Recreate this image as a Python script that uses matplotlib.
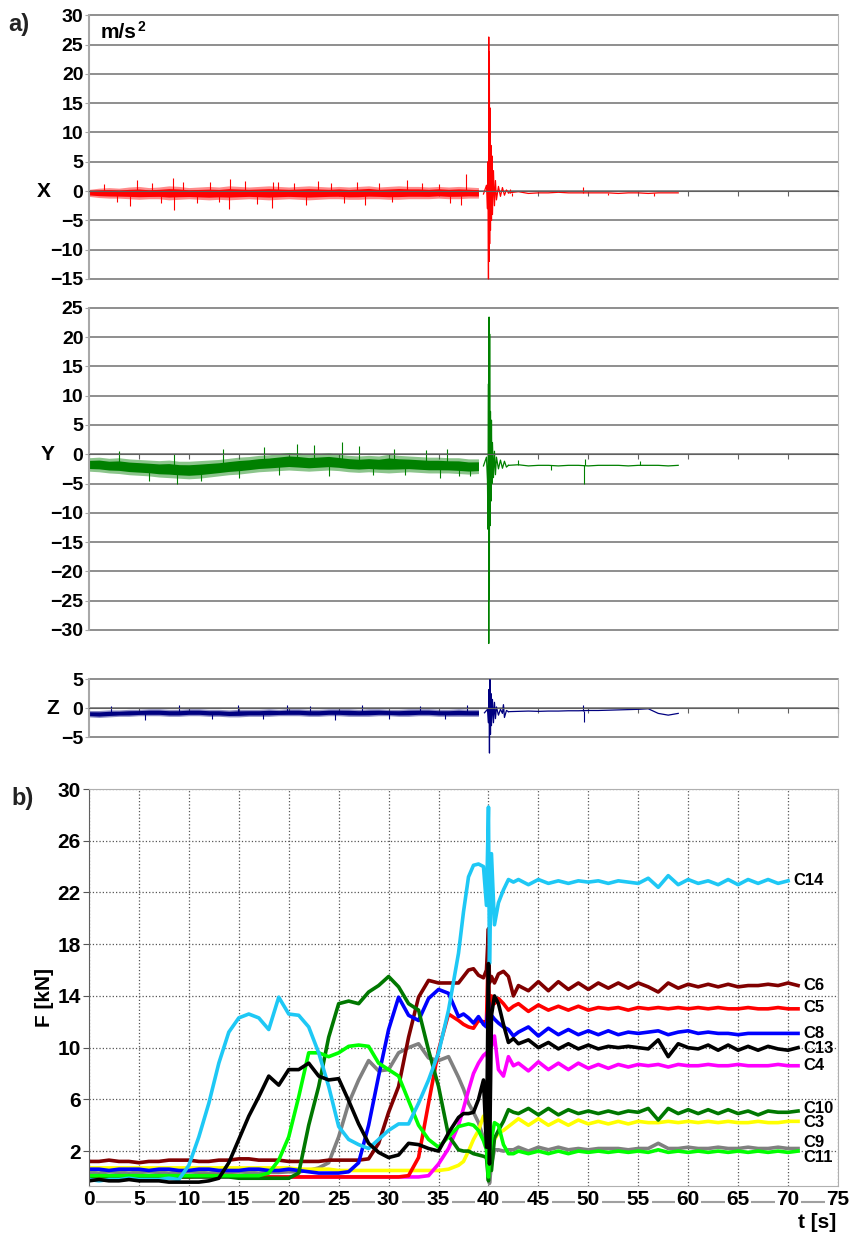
import numpy as np
import matplotlib
matplotlib.use("Agg")
import matplotlib.pyplot as plt
from matplotlib.transforms import blended_transform_factory

plt.rcParams['font.family'] = ['Liberation Sans', 'DejaVu Sans']
plt.rcParams['font.weight'] = 'bold'

# ---------------- a) accelerations [m/s^2] ----------------
# noise band before the event, 1 s steps (t = 0..39)
t_band = list(range(0, 40))
x_hi = [0.3, 0.5, 0.6, 0.5, 0.7, 0.8, 0.6, 0.7, 0.9, 0.8, 0.6, 0.7, 0.8, 0.7, 0.9, 0.8, 0.7, 0.8, 0.9, 0.8,
        0.7, 0.8, 0.9, 0.8, 0.7, 0.8, 0.7, 0.8, 0.9, 0.7, 0.8, 0.9, 0.8, 0.8, 0.7, 0.8, 0.7, 0.8, 0.7, 0.6]
x_lo = [-0.9, -1.1, -1.2, -1.2, -1.3, -1.4, -1.3, -1.3, -1.5, -1.4, -1.3, -1.4, -1.5, -1.4, -1.5, -1.4, -1.3, -1.4, -1.5, -1.4,
        -1.3, -1.4, -1.5, -1.4, -1.3, -1.3, -1.4, -1.4, -1.3, -1.3, -1.4, -1.4, -1.3, -1.3, -1.3, -1.2, -1.3, -1.3, -1.2, -1.2]
y_hi = [-0.6, -0.5, -0.7, -0.6, -0.8, -0.9, -1.0, -1.1, -1.0, -1.2, -1.2, -1.1, -1.0, -0.9, -0.7, -0.5, -0.4, -0.2, -0.1, 0.1,
        0.3, 0.2, 0.0, 0.1, 0.2, 0.0, -0.2, -0.3, -0.2, -0.3, 0.0, -0.2, -0.3, -0.4, -0.5, -0.5, -0.6, -0.6, -0.8, -0.8]
y_lo = [-2.9, -3.0, -3.2, -3.3, -3.5, -3.6, -3.7, -3.9, -4.0, -4.1, -4.2, -4.1, -3.9, -3.7, -3.5, -3.4, -3.2, -3.0, -2.9, -2.8,
        -2.7, -2.8, -2.9, -2.8, -2.7, -2.8, -3.0, -3.1, -3.0, -3.1, -3.2, -3.1, -3.0, -3.1, -3.2, -3.2, -3.2, -3.3, -3.4, -3.3]
z_hi = [-0.4, -0.4, -0.3, -0.3, -0.2, -0.2, -0.1, -0.1, -0.2, -0.2, -0.1, -0.1, -0.2, -0.2, -0.3, -0.2, -0.2, -0.2, -0.1, -0.2,
        -0.1, -0.1, -0.2, -0.2, -0.1, -0.1, -0.1, -0.2, -0.1, -0.1, -0.2, -0.2, -0.1, -0.1, -0.1, -0.2, -0.2, -0.1, -0.2, -0.2]
z_lo = [-1.5, -1.6, -1.5, -1.4, -1.4, -1.3, -1.3, -1.3, -1.4, -1.4, -1.3, -1.3, -1.4, -1.4, -1.5, -1.5, -1.4, -1.4, -1.4, -1.3,
        -1.3, -1.3, -1.4, -1.4, -1.3, -1.3, -1.4, -1.4, -1.4, -1.3, -1.3, -1.4, -1.4, -1.3, -1.3, -1.4, -1.4, -1.4, -1.4, -1.4]

# single spikes sticking out of the band
x_spk_t = [1.5, 2.8, 4.1, 4.8, 6.3, 7.2, 8.4, 8.5, 9.4, 10.8, 12.1, 13.0, 14.0, 14.1, 15.6, 16.8, 18.3, 18.4, 18.9,
           20.5, 21.7, 22.9, 24.2, 25.5, 26.8, 27.6, 29.0, 30.3, 31.8, 33.3, 35.0, 36.1, 37.2, 37.8]
x_spk_v = [1.2, -1.9, -2.5, 1.9, 1.4, -2.0, 2.2, -3.2, 1.6, -2.1, 1.5, -1.8, -3.0, 2.0, 1.8, -2.2, -2.8, 1.5, 1.6,
           1.4, -2.4, 1.7, 1.3, -2.0, 1.5, -2.3, 1.4, -1.9, 1.9, 1.3, 1.2, -2.0, -2.4, 3.0]
y_spk_t = [3.0, 6.0, 8.5, 8.8, 11.2, 13.4, 15.0, 17.5, 19.0, 20.8, 22.5, 24.0, 25.3, 27.0, 28.4, 30.5, 31.6,
           33.7, 35.1, 35.8, 37.0, 38.2]
y_spk_v = [0.6, -4.5, 0.0, -5.1, -4.6, 0.9, -4.0, 1.3, -3.6, 1.7, 1.5, -3.8, 2.0, 1.4, -3.5, 0.9, -3.6,
           0.8, -4.0, 0.9, -3.7, -3.8]
z_spk_t = [2.2, 5.6, 9.0, 12.3, 14.9, 17.4, 19.8, 22.1, 24.6, 27.3, 30.0, 33.1, 35.6, 37.9]
z_spk_v = [0.4, -2.0, 0.5, -1.9, 0.5, -1.8, 0.6, 0.4, -2.0, 0.5, -1.9, 0.4, -1.8, 0.5]

# the event around 40 s
x_ev_t = [39.5, 39.8, 39.9, 39.95, 40.0, 40.03, 40.06, 40.09, 40.12, 40.15, 40.2, 40.25, 40.3, 40.35, 40.4,
          40.5, 40.6, 40.7, 40.8, 41.0, 41.2, 41.4, 41.6, 41.8, 42.0]
x_ev_v = [-0.5, 1.0, -3.0, 5.0, -15.0, 26.3, -12.0, 23.8, -9.0, 14.2, -6.7, 7.8, -5.0, 6.0, -4.0,
          3.5, -2.5, 1.8, -1.5, 0.8, -0.9, 0.6, -0.7, 0.2, -0.3]
y_ev_t = x_ev_t
y_ev_v = [-2.0, -0.5, -4.5, -12.8, 12.0, -32.3, 23.4, -24.7, 20.5, -12.2, 7.3, -8.0, 5.8, -5.0, 2.0,
          -4.0, 0.5, -3.5, -0.5, -2.5, -1.0, -2.4, -1.2, -2.2, -1.9]
z_ev_t = [39.6, 39.9, 40.0, 40.05, 40.1, 40.15, 40.2, 40.25, 40.3, 40.4, 40.5, 40.6, 40.7, 40.8, 41.0,
          41.2, 41.4, 41.5, 41.6, 41.8, 42.0]
z_ev_v = [-0.8, -0.2, -2.5, 3.2, -7.7, 4.9, -4.5, 2.5, -3.0, 1.5, -2.5, 1.0, -1.8, 0.2, -1.2,
          -0.2, -0.9, 0.6, -1.6, -0.4, -0.6]

# after the event, 1 s steps (t = 42..59)
t_post = list(range(42, 60))
x_post = [-0.3, -0.1, -0.4, -0.3, -0.3, -0.2, -0.3, -0.3, -0.3, -0.3, -0.3, -0.4, -0.3, -0.3, -0.4, -0.3, -0.3, -0.3]
y_post = [-1.9, -1.8, -2.0, -1.9, -1.9, -2.0, -1.9, -1.9, -2.0, -1.9, -1.9, -1.9, -2.0, -1.9, -1.9, -1.9, -2.0, -1.9]
z_post = [-0.6, -0.55, -0.5, -0.55, -0.5, -0.5, -0.45, -0.45, -0.4, -0.4, -0.35, -0.3, -0.25, -0.2, -0.1, -0.9, -1.2, -0.9]
x_pspk_t = [42.2, 42.4, 49.5, 52.0, 56.6]
x_pspk_v = [0.3, -0.9, 0.7, -0.6, -0.8]
y_pspk_t = [43.0, 46.3, 49.6, 49.65, 55.2]
y_pspk_v = [-1.0, -2.7, -5.1, -0.9, -1.2]
z_pspk_t = [41.5, 49.5, 49.55]
z_pspk_v = [0.6, 0.5, -2.3]

# ---------------- b) forces [kN] ----------------
t_f = list(range(0, 38)) + [37.5, 38, 38.5, 39, 39.5, 39.8, 40.0, 40.1, 40.3, 40.6, 41, 41.5, 42, 42.5] \
      + list(range(43, 72))

c14 = [-0.2, -0.3, -0.2, -0.2, -0.1, -0.2, -0.2, -0.2, -0.1, -0.2, 0.9, 3.1, 5.7, 8.8, 11.2, 12.3, 12.6, 12.3, 11.4,
       13.9, 12.6, 12.5, 11.6, 9.6, 7.0, 3.9, 2.9, 2.5, 2.2, 2.9, 3.6, 4.1, 4.1, 5.7, 7.5, 9.6, 12.9, 17.3,
       20.5, 23.2, 24.1, 24.2, 24.0, 21.0, 28.6, 16.5, 25.0, 19.5, 21.2, 22.2, 23.0, 22.8,
       23.0, 22.6, 23.0, 22.7, 22.9, 22.7, 22.9, 22.8, 22.9, 22.7, 22.9, 22.8, 22.7, 23.1, 22.4, 23.3, 22.6, 23.0,
       22.7, 22.9, 22.6, 23.0, 22.6, 23.0, 22.7, 23.0, 22.7, 22.9, np.nan]
c6 = [1.2, 1.2, 1.3, 1.2, 1.2, 1.1, 1.2, 1.2, 1.3, 1.3, 1.3, 1.2, 1.2, 1.3, 1.3, 1.4, 1.4, 1.3, 1.3, 1.3,
      1.2, 1.2, 1.2, 1.2, 1.3, 1.3, 1.3, 1.3, 1.4, 2.6, 5.0, 7.0, 10.8, 13.9, 15.2, 15.0, 15.0, 15.0,
      15.5, 16.0, 16.1, 15.6, 15.4, 16.0, 19.2, 15.0, 15.5, 15.0, 15.7, 15.9, 15.5, 14.0,
      14.8, 14.4, 15.1, 14.4, 15.1, 14.5, 15.0, 14.5, 15.0, 14.6, 15.0, 14.6, 15.0, 14.7, 14.3, 15.0, 14.6, 14.9,
      14.7, 14.9, 14.7, 14.9, 14.7, 14.8, 14.8, 14.9, 14.8, 15.0, 14.8]
c5 = [0.1, 0.0, 0.0, 0.1, 0.0, 0.0, 0.0, 0.1, 0.0, 0.0, 0.0, 0.1, 0.1, 0.1, 0.1, 0.1, 0.0, 0.0, 0.0, 0.0,
      0.0, 0.0, 0.0, 0.0, 0.0, 0.0, 0.0, 0.0, 0.0, 0.0, 0.0, 0.0, 0.1, 1.5, 5.7, 9.8, 12.6, 12.1,
      11.8, 11.6, 11.5, 12.1, 12.0, 12.0, 18.0, 11.0, 14.0, 13.4, 13.8, 13.4, 12.9, 13.2,
      13.4, 12.8, 13.3, 12.9, 13.2, 12.9, 13.2, 12.9, 13.1, 13.0, 13.1, 12.9, 13.1, 13.0, 13.1, 13.0, 13.1, 13.0,
      13.1, 13.0, 13.1, 13.0, 13.0, 13.1, 13.0, 13.0, 13.1, 13.0, 13.0]
c8 = [0.6, 0.6, 0.5, 0.6, 0.6, 0.6, 0.5, 0.6, 0.6, 0.5, 0.5, 0.6, 0.6, 0.5, 0.5, 0.5, 0.6, 0.6, 0.5, 0.5,
      0.6, 0.5, 0.4, 0.3, 0.3, 0.3, 0.4, 1.1, 4.0, 7.8, 11.4, 13.9, 12.5, 12.1, 13.8, 14.5, 14.2, 12.4,
      12.6, 12.3, 11.9, 12.4, 11.8, 11.6, 13.5, 11.0, 12.5, 12.2, 11.9, 11.6, 11.4, 10.9,
      11.2, 11.6, 10.9, 11.5, 11.0, 11.4, 11.0, 11.3, 11.0, 11.3, 11.0, 11.2, 11.1, 11.2, 11.3, 11.0, 11.2, 11.3,
      11.1, 11.2, 11.1, 11.1, 11.0, 11.1, 11.1, 11.1, 11.1, 11.1, 11.1]
c13 = [-0.3, -0.2, -0.3, -0.3, -0.2, -0.3, -0.3, -0.3, -0.4, -0.4, -0.4, -0.4, -0.3, -0.1, 1.1, 2.9, 4.7, 6.2, 7.8,
       7.1, 8.3, 8.3, 8.8, 7.8, 7.5, 7.6, 5.9, 4.1, 2.6, 1.9, 1.5, 1.7, 2.6, 2.5, 2.2, 2.0, 3.4, 4.6,
       4.9, 4.9, 5.0, 6.0, 7.5, 2.3, 16.5, 1.0, 12.5, 14.0, 13.4, 11.8, 10.4, 10.7,
       10.3, 10.6, 10.0, 10.4, 9.9, 10.3, 9.9, 10.2, 9.9, 10.1, 10.0, 10.1, 10.0, 9.9, 10.6, 9.3, 10.3, 10.0,
       9.9, 10.2, 9.8, 10.2, 9.8, 10.1, 9.8, 10.1, 9.9, 9.8, 10.0]
c4 = [0.0, 0.0, 0.1, 0.0, 0.0, 0.0, 0.0, 0.0, 0.1, 0.0, 0.0, 0.0, 0.0, 0.0, 0.0, 0.0, 0.0, 0.0, 0.0, 0.0,
      0.0, 0.0, 0.0, 0.0, 0.0, 0.0, 0.0, 0.0, 0.0, 0.0, 0.0, 0.0, 0.0, 0.0, 0.1, 1.0, 2.2, 4.0,
      5.3, 6.7, 8.0, 8.8, 9.4, 9.6, 9.0, 10.5, 10.1, 10.9, 8.3, 7.8, 9.3, 8.6,
      8.8, 8.2, 8.9, 8.3, 8.8, 8.3, 8.8, 8.4, 8.7, 8.4, 8.7, 8.5, 8.7, 8.6, 8.7, 8.5, 8.7, 8.6,
      8.6, 8.7, 8.6, 8.6, 8.7, 8.6, 8.6, 8.6, 8.7, 8.6, 8.6]
c10 = [0.0, 0.1, 0.0, 0.0, 0.1, 0.0, 0.0, 0.0, 0.1, 0.0, 0.0, 0.0, 0.0, 0.0, 0.0, -0.1, -0.1, -0.1, -0.1, -0.1,
       -0.1, 0.3, 4.0, 7.0, 10.8, 13.4, 13.6, 13.4, 14.3, 14.8, 15.5, 14.7, 13.4, 12.9, 9.8, 7.0, 3.2, 2.1,
       2.0, 2.0, 1.8, 1.7, 1.6, 1.5, -0.3, 2.0, 0.5, 3.0, 3.6, 4.3, 5.2, 5.0,
       4.9, 5.3, 4.8, 5.3, 4.8, 5.2, 4.9, 5.1, 4.9, 5.1, 4.9, 5.1, 5.0, 5.3, 4.4, 5.3, 4.9, 5.2,
       4.9, 5.2, 4.9, 5.2, 4.9, 5.1, 4.8, 5.1, 5.0, 5.0, 5.1]
c3 = [0.7, 0.7, 0.7, 0.7, 0.7, 0.7, 0.7, 0.7, 0.7, 0.7, 0.7, 0.7, 0.7, 0.7, 0.7, 0.7, 0.7, 0.7, 0.7, 0.7,
      0.7, 0.6, 0.6, 0.6, 0.6, 0.5, 0.5, 0.5, 0.5, 0.5, 0.5, 0.5, 0.5, 0.5, 0.5, 0.5, 0.6, 0.9,
      1.2, 2.0, 2.9, 3.6, 4.7, 4.1, 1.0, 3.0, 2.0, 2.9, 3.4, 3.6, 3.9, 4.2,
      4.5, 4.0, 4.5, 4.0, 4.4, 4.0, 4.4, 4.1, 4.3, 4.1, 4.3, 4.1, 4.3, 4.2, 4.2, 4.3, 4.2, 4.3,
      4.2, 4.3, 4.2, 4.3, 4.2, 4.2, 4.3, 4.2, 4.2, 4.3, 4.3]
c9 = [0.35, 0.3, 0.4, 0.35, 0.3, 0.35, 0.4, 0.35, 0.3, 0.35, 0.4, 0.35, 0.3, 0.35, 0.35, 0.4, 0.35, 0.3, 0.35, 0.35,
      0.4, 0.4, 0.5, 0.7, 1.1, 3.1, 5.7, 7.5, 9.0, 8.2, 8.3, 9.6, 10.0, 10.3, 9.2, 9.0, 9.3, 7.7,
      6.8, 5.7, 5.0, 4.2, 3.0, 2.3, 1.5, -0.5, 1.0, 2.1, 2.1, 2.0, 2.1, 2.1,
      2.3, 2.0, 2.3, 2.1, 2.3, 2.1, 2.2, 2.1, 2.2, 2.2, 2.2, 2.1, 2.2, 2.2, 2.6, 2.2, 2.2, 2.3,
      2.2, 2.2, 2.3, 2.2, 2.2, 2.3, 2.2, 2.2, 2.3, 2.2, 2.2]
c11 = [0.1, 0.1, 0.1, 0.1, 0.1, 0.1, 0.1, 0.1, 0.1, 0.1, 0.1, 0.1, 0.1, 0.1, 0.1, 0.1, 0.1, 0.1, 0.3, 1.3,
       3.1, 6.2, 9.6, 9.6, 9.3, 9.6, 10.1, 10.2, 10.1, 8.8, 8.3, 7.8, 5.9, 4.0, 2.9, 2.3, 3.1, 3.9,
       4.0, 4.1, 4.0, 3.6, 2.8, 2.1, 0.0, 1.5, 2.9, 4.2, 4.0, 2.5, 1.8, 1.8,
       2.0, 1.8, 2.0, 1.8, 2.0, 1.8, 2.0, 1.9, 2.0, 1.9, 2.0, 1.9, 2.0, 1.9, 2.1, 1.9, 2.0, 1.9,
       2.0, 1.9, 2.0, 1.9, 2.0, 1.9, 2.0, 1.9, 2.0, 1.9, 2.0]

names = ['C9', 'C3', 'C4', 'C5', 'C6', 'C8', 'C10', 'C11', 'C14', 'C13']
series = [c9, c3, c4, c5, c6, c8, c10, c11, c14, c13]
colors = ['#808080', '#FFFF00', '#FF00FF', '#FF0000', '#800000', '#0000FF', '#007800', '#00FF00', '#1EC8F5', '#000000']
# label positions at the right end of the curves
lab_t = [71.5, 71.5, 71.5, 71.5, 71.5, 71.5, 71.5, 71.5, 70.5, 71.5]
lab_f = [2.7, 4.2, 8.6, 13.1, 14.8, 11.1, 5.3, 1.5, 22.9, 9.9]

# ---------------- figure ----------------
fig = plt.figure(figsize=(8.53, 12.34), dpi=100)
L, W = 89 / 853, 749 / 853


def panel(top, bottom):
    return fig.add_axes([L, 1 - bottom / 1234, W, (bottom - top) / 1234])


def style_acc(ax, lo, hi, name, name_x):
    ax.set_xlim(0, 75)
    ax.set_ylim(lo, hi)
    ax.set_yticks(np.arange(lo, hi + 1, 5))
    ax.set_xticks(np.arange(0, 76, 5))
    ax.set_xticklabels([])
    ax.spines['bottom'].set_position(('data', 0))
    ax.spines['bottom'].set_color('#606060')
    ax.spines['top'].set_visible(False)
    ax.spines['left'].set_color('#a8a8a8')
    ax.spines['left'].set_linewidth(1.5)
    ax.spines['right'].set_color('#b8b8b8')
    ax.yaxis.grid(True, color='#707070', lw=1.1)
    for gl in ax.get_ygridlines():
        gl.set_clip_on(False)
    ax.set_axisbelow(True)
    ax.tick_params(axis='x', direction='out', length=3.5, color='#606060')
    ax.tick_params(axis='y', length=3, pad=1, labelsize=14, color='#a8a8a8')
    tr = blended_transform_factory(ax.transAxes, ax.transData)
    ax.text(name_x, 0, name, transform=tr, fontsize=15, ha='center', va='center')


def draw_acc(ax, hi, lo, base, spk_t, spk_v, ev_t, ev_v, post, pspk_t, pspk_v, base_post, col):
    hi, lo = np.array(hi), np.array(lo)
    mid = (hi + lo) / 2
    # light outer band, dense core
    ax.fill_between(t_band, lo, hi, color=col, lw=0, alpha=0.45)
    ax.fill_between(t_band, mid + 0.6 * (lo - mid), mid + 0.6 * (hi - mid), color=col, lw=0)
    ax.vlines(spk_t, base, spk_v, color=col, lw=0.8)
    ax.plot(ev_t, ev_v, color=col, lw=0.9, clip_on=False)
    ax.plot(t_post, post, color=col, lw=0.9)
    ax.vlines(pspk_t, base_post, pspk_v, color=col, lw=0.8)


axX = panel(15.3, 279)
axY = panel(307.7, 630)
axZ = panel(679, 737.3)
style_acc(axX, -15, 30, 'X', -0.061)
style_acc(axY, -30, 25, 'Y', -0.055)
style_acc(axZ, -5, 5, 'Z', -0.048)
draw_acc(axX, x_hi, x_lo, -0.3, x_spk_t, x_spk_v, x_ev_t, x_ev_v, x_post, x_pspk_t, x_pspk_v, -0.3, '#FF0000')
draw_acc(axY, y_hi, y_lo, -1.8, y_spk_t, y_spk_v, y_ev_t, y_ev_v, y_post, y_pspk_t, y_pspk_v, -1.9, '#008000')
draw_acc(axZ, z_hi, z_lo, -0.8, z_spk_t, z_spk_v, z_ev_t, z_ev_v, z_post, z_pspk_t, z_pspk_v, -0.45, '#000080')
unit = axX.text(0.015, 0.97, 'm/s', transform=axX.transAxes, fontsize=15, va='top', ha='left')
axX.annotate('2', xy=(1.0, 1.0), xycoords=unit, fontsize=10, va='top', ha='left', xytext=(1, 2.5),
             textcoords='offset points')

fig.text(8 / 853, 1 - 25 / 1234, 'a)', fontsize=17, va='center', ha='left', color='#222222')
fig.text(11 / 853, 1 - 799 / 1234, 'b)', fontsize=17, va='center', ha='left', color='#222222')

# ---- b) panel ----
axF = panel(789, 1186)
for name, vals, col, lt, lf in zip(names, series, colors, lab_t, lab_f):
    axF.plot(t_f, vals, color=col, lw=2.6, solid_joinstyle='round')
    axF.text(lt, lf, name, fontsize=12, va='center', ha='left')
axF.set_xlim(0, 75)
axF.set_ylim(-0.7, 30)
axF.set_xticks(np.arange(0, 76, 5))
axF.set_yticks(np.arange(2, 31, 4))
axF.grid(True, ls=':', color='#555555', lw=0.9)
axF.set_axisbelow(True)
axF.tick_params(axis='x', length=0, pad=3, labelsize=15)
axF.tick_params(axis='y', length=4, pad=2, labelsize=15, color='#555555')
for lab in axF.get_xticklabels():
    lab.set_bbox(dict(facecolor='white', edgecolor='none', pad=1.2))
for s in ['top', 'right', 'bottom']:
    axF.spines[s].set_color('#b0b0b0')
axF.spines['left'].set_color('#606060')
trF = blended_transform_factory(axF.transData, axF.transAxes)
axF.plot([0, 75], [-0.0403, -0.0403], transform=trF, color='#a0a0a0', lw=1.5, clip_on=False, zorder=0.1)
axF.text(-0.060, 0.476, 'F [kN]', transform=axF.transAxes, rotation=90, fontsize=15, ha='center', va='center')
axF.text(0.972, -0.091, 't [s]', transform=axF.transAxes, fontsize=15, ha='center', va='center')

fig.savefig('out.png', dpi=100)
